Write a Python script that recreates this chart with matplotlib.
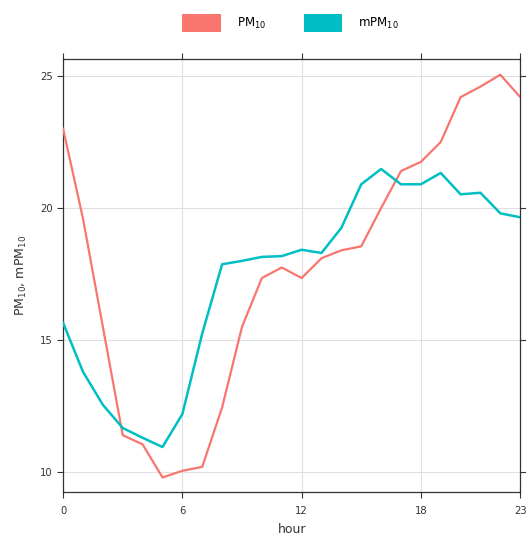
import matplotlib

matplotlib.use("Agg")
import matplotlib.pyplot as plt
from matplotlib.patches import Patch

hours = list(range(24))
pm10 = [23.0, 19.6, 15.5, 11.4, 11.05, 9.8, 10.05, 10.2, 12.45, 15.5,
        17.35, 17.75, 17.35, 18.1, 18.4, 18.55, 20.0, 21.4, 21.75, 22.5,
        24.2, 24.6, 25.05, 24.2]
mpm10 = [15.65, 13.8, 12.55, 11.67, 11.3, 10.95, 12.2, 15.25, 17.87, 18.0,
         18.15, 18.18, 18.42, 18.3, 19.25, 20.9, 21.48, 20.9, 20.9, 21.33,
         20.52, 20.58, 19.8, 19.65]
x_ticks = [0, 6, 12, 18, 23]
y_ticks = [10, 15, 20, 25]

red = "#F8766D"
teal = "#00BFC4"

fig = plt.figure(figsize=(5.26, 5.4), dpi=100)
ax = fig.add_axes([0.12, 0.089, 0.869, 0.802])

ax.plot(hours, pm10, color=red, lw=1.6, zorder=3)
ax.plot(hours, mpm10, color=teal, lw=1.8, zorder=3)

ax.set_xlim(0, 23)
ax.set_ylim(9.25, 25.65)
ax.set_xticks(x_ticks)
ax.set_yticks(y_ticks)
ax.grid(True, color="#e0e0e0", lw=0.8, zorder=0)
ax.tick_params(axis="both", direction="out", length=4, width=0.8,
               labelsize=7.2, colors="#333333", top=True, right=True)
ax.tick_params(axis="x", pad=6)
for s in ax.spines.values():
    s.set_color("#333333")
    s.set_linewidth(0.9)

ax.set_xlabel("hour", fontsize=9, color="#333333", labelpad=5)
ax.set_ylabel(r"$\mathrm{PM_{10}}$, $\mathrm{mPM_{10}}$", fontsize=9,
              color="#333333", labelpad=8)

handles = [Patch(facecolor=red, edgecolor="none"),
           Patch(facecolor=teal, edgecolor="none")]
fig.legend(handles, [r"$\mathrm{PM_{10}}$", r"$\mathrm{mPM_{10}}$"],
           loc="center", bbox_to_anchor=(0.552, 0.958), ncol=2,
           frameon=False, fontsize=8.5, handlelength=3.3, handleheight=2.0,
           columnspacing=3.2, handletextpad=1.3)

fig.savefig("out.png", dpi=100)
plt.close(fig)
